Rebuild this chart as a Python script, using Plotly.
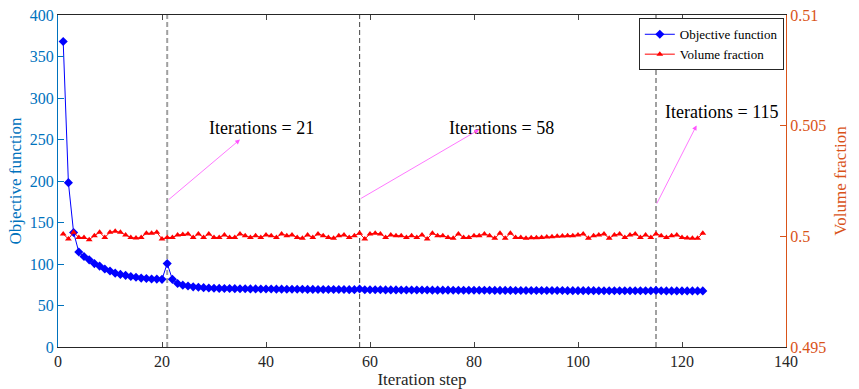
import plotly.graph_objects as go

iterations = list(range(1, 125))

objective = [368, 198, 138, 114.5, 109, 105, 100.5, 97.5, 94, 91.5,
             89, 87.5, 86.3, 85, 84, 83, 82.5, 82, 81.8, 81.5,
             100.5, 81.5, 76.5, 74.5, 73.5, 72.5, 72, 71.5, 71, 70.8,
             70.6, 70.5, 70.4, 70.3, 70.2, 70.1, 70.0, 70.0, 69.9, 69.8,
             69.8, 69.7, 69.7, 69.6, 69.6, 69.5, 69.5, 69.4, 69.4, 69.3,
             69.3, 69.3, 69.2, 69.2, 69.2, 69.1, 69.1, 69.8, 69.0, 68.9,
             68.9, 68.9, 68.8, 68.8, 68.8, 68.7, 68.7, 68.7, 68.6, 68.6,
             68.6, 68.5, 68.5, 68.5, 68.5, 68.4, 68.4, 68.4, 68.4, 68.3,
             68.3, 68.3, 68.3, 68.2, 68.2, 68.2, 68.2, 68.1, 68.1, 68.1,
             68.1, 68.1, 68.0, 68.0, 68.0, 68.0, 68.0, 67.9, 67.9, 67.9,
             67.9, 67.9, 67.9, 67.8, 67.8, 67.8, 67.8, 67.8, 67.8, 67.7,
             67.7, 67.7, 67.7, 67.7, 68.2, 67.7, 67.6, 67.6, 67.6, 67.6,
             67.6, 67.6, 67.6, 67.6]

volume = [0.50011, 0.49988, 0.50018, 0.49995, 0.49995, 0.49985, 0.50003, 0.50018, 0.49995, 0.50018,
          0.50023, 0.50018, 0.50006, 0.49995, 0.49992, 0.49995, 0.50014, 0.50014, 0.50018, 0.49988,
          0.49995, 0.49995, 0.50006, 0.50008, 0.50011, 0.49995, 0.50011, 0.49995, 0.50011, 0.49995,
          0.49995, 0.50006, 0.49995, 0.49995, 0.50011, 0.50003, 0.49995, 0.50003, 0.49995, 0.50006,
          0.50003, 0.49995, 0.50011, 0.50003, 0.50006, 0.49995, 0.49991, 0.50006, 0.49995, 0.50011,
          0.50003, 0.49995, 0.49991, 0.50003, 0.50006, 0.49995, 0.50003, 0.50014, 0.49988, 0.50011,
          0.50014, 0.50011, 0.49995, 0.50006, 0.50003, 0.50003, 0.49995, 0.50003, 0.49995, 0.50006,
          0.49988, 0.50014, 0.50003, 0.50003, 0.49995, 0.49991, 0.50011, 0.49995, 0.49995, 0.50003,
          0.50003, 0.50011, 0.50003, 0.49991, 0.50014, 0.49991, 0.50014, 0.49995, 0.49995, 0.49991,
          0.49994, 0.49994, 0.49995, 0.49997, 0.49998, 0.50000, 0.50002, 0.50003, 0.50003, 0.50006,
          0.50011, 0.49991, 0.50003, 0.50006, 0.50011, 0.49991, 0.50006, 0.50011, 0.49995, 0.50006,
          0.50011, 0.49995, 0.50006, 0.49995, 0.50011, 0.50003, 0.49995, 0.50003, 0.50006, 0.49995,
          0.49992, 0.49991, 0.49991, 0.50014]

marked_iters = [21, 58, 115]
marked_labels = ["Iterations = 21", "Iterations = 58", "Iterations = 115"]
label_x = [39.2, 85.2, 127.5]
label_y = [264, 264, 283]
arrow_tail_y = [176, 178, 171]
arrow_head_x = [35, 81, 122.8]
arrow_head_y = [250, 262, 267]
vline_colors = ["#A0A0A0", "#555555", "#555555"]
vline_widths = [2, 1.1, 1.1]

xticks = [0, 20, 40, 60, 80, 100, 120, 140]
yticks = [0, 50, 100, 150, 200, 250, 300, 350, 400]
y2ticks = [0.495, 0.5, 0.505, 0.51]
y2ticktext = ["0.495", "0.5", "0.505", "0.51"]

BLUE_AX = "#0072BD"
ORANGE_AX = "#D95319"
FONT = '"Liberation Serif", "Times New Roman", serif'

fig = go.Figure()
fig.add_trace(go.Scatter(x=iterations, y=objective, mode="lines+markers",
                         name="Objective function",
                         line=dict(color="#0000FF", width=1),
                         marker=dict(symbol="diamond", size=7, color="#0000FF")))
fig.add_trace(go.Scatter(x=iterations, y=volume, mode="lines+markers",
                         name="Volume fraction", yaxis="y2",
                         line=dict(color="#FF0000", width=1),
                         marker=dict(symbol="triangle-up", size=6, color="#FF0000")))

shapes = []
for xv, c, w in zip(marked_iters, vline_colors, vline_widths):
    shapes.append(dict(type="line", xref="x", yref="paper", x0=xv, x1=xv, y0=0, y1=1,
                       layer="below", line=dict(color=c, width=w, dash="5px,3px")))

annotations = []
for xv, lab, lx, ly, ty, hx, hy in zip(marked_iters, marked_labels, label_x, label_y,
                                       arrow_tail_y, arrow_head_x, arrow_head_y):
    annotations.append(dict(x=lx, y=ly, xref="x", yref="y", text=lab, showarrow=False,
                            font=dict(family=FONT, size=18, color="#000000")))
    annotations.append(dict(x=hx, y=hy, xref="x", yref="y", ax=xv, ay=ty,
                            axref="x", ayref="y", text="", showarrow=True,
                            arrowhead=2, arrowsize=1.2, arrowwidth=0.8,
                            arrowcolor="#FF55FF"))

fig.update_layout(
    width=859, height=389,
    margin=dict(l=58, r=73, t=15, b=42, autoexpand=False),
    paper_bgcolor="white", plot_bgcolor="white",
    font=dict(family=FONT, size=14, color="#262626"),
    showlegend=True,
    legend=dict(x=0.997, y=0.99, xanchor="right", yanchor="top",
                bgcolor="white", bordercolor="#262626", borderwidth=1,
                font=dict(family=FONT, size=13, color="#000000"),
                itemwidth=30, tracegroupgap=0),
    xaxis=dict(range=[0, 140], tickvals=xticks, ticks="inside", ticklen=5,
               showline=True, linecolor="#262626", linewidth=1, mirror="ticks",
               showgrid=False, zeroline=False, automargin=False,
               tickfont=dict(family=FONT, size=16, color="#262626"),
               title=dict(text="Iteration step", font=dict(family=FONT, size=17, color="#262626"),
                          standoff=2)),
    yaxis=dict(range=[0, 400], tickvals=yticks, ticks="inside", ticklen=6,
               showline=True, linecolor=BLUE_AX, linewidth=1, tickcolor=BLUE_AX,
               showgrid=False, zeroline=False, automargin=False,
               tickfont=dict(family=FONT, size=16, color=BLUE_AX),
               title=dict(text="Objective function", font=dict(family=FONT, size=17, color=BLUE_AX),
                          standoff=3)),
    yaxis2=dict(range=[0.495, 0.51], tickvals=y2ticks, ticktext=y2ticktext,
                overlaying="y", side="right", ticks="inside", ticklen=6,
                showline=True, linecolor=ORANGE_AX, linewidth=1, tickcolor=ORANGE_AX,
                showgrid=False, zeroline=False, automargin=False,
                tickfont=dict(family=FONT, size=16, color=ORANGE_AX),
                title=dict(text="Volume fraction", font=dict(family=FONT, size=17, color=ORANGE_AX),
                           standoff=8)),
    shapes=shapes,
    annotations=annotations,
)

fig.write_html("out.html")
